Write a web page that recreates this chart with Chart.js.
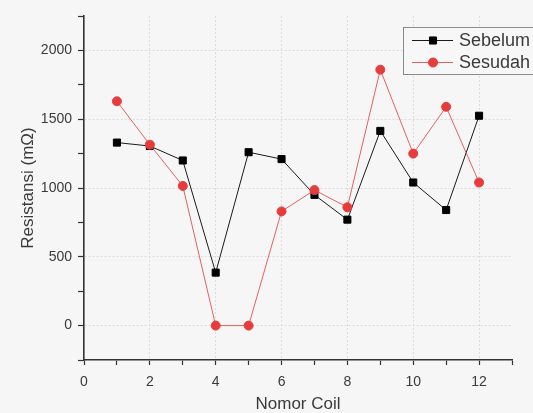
<!DOCTYPE html>
<html>
<head>
<meta charset="utf-8">
<script src="https://cdn.jsdelivr.net/npm/chart.js@4.4.1/dist/chart.umd.min.js"></script>
<style>
  html, body { margin: 0; padding: 0; background: #f6f6f6; }
  #wrap { width: 533px; height: 413px; }
</style>
</head>
<body>
<div id="wrap"><canvas id="c" width="533" height="413" style="width:533px;height:413px"></canvas></div>
<script>
const categories = [1, 2, 3, 4, 5, 6, 7, 8, 9, 10, 11, 12];
const sebelum = [1330, 1305, 1200, 385, 1260, 1210, 950, 770, 1415, 1040, 840, 1525];
const sesudah = [1630, 1315, 1015, 0, 0, 830, 985, 860, 1860, 1250, 1590, 1040];
const seriesNames = ["Sebelum", "Sesudah"];
const xTickLabels = [0, 2, 4, 6, 8, 10, 12];
const yTickLabels = [0, 500, 1000, 1500, 2000];
const xTitle = "Nomor Coil";
const yTitle = "Resistansi (mΩ)";

const FONT = "'Liberation Sans', Arial, sans-serif";
const TXT = "#3a3a3a";

const legendPlugin = {
  id: 'boxLegend',
  afterDraw(chart) {
    const ctx = chart.ctx;
    ctx.save();
    const bx = 403, by = 27, bw = 140, bh = 47;
    ctx.fillStyle = '#f7f7f7';
    ctx.fillRect(bx, by, bw, bh);
    ctx.strokeStyle = '#8a8a8a';
    ctx.lineWidth = 1;
    ctx.strokeRect(bx + 0.5, by + 0.5, bw, bh);
    chart.data.datasets.forEach((ds, i) => {
      const y = 40 + i * 22;
      ctx.strokeStyle = ds.borderColor;
      ctx.lineWidth = 1;
      ctx.beginPath();
      ctx.moveTo(412, y + 0.5);
      ctx.lineTo(453, y + 0.5);
      ctx.stroke();
      ctx.fillStyle = ds.pointBackgroundColor;
      ctx.strokeStyle = ds.pointBorderColor;
      Chart.helpers.drawPoint(ctx, {pointStyle: ds.pointStyle, radius: ds.pointRadius, borderWidth: 1, rotation: 0}, 433, y + 0.5);
      ctx.fillStyle = TXT;
      ctx.font = "18px " + FONT;
      ctx.textBaseline = 'middle';
      ctx.textAlign = 'left';
      ctx.fillText(ds.label, 459, y + 1);
    });
    ctx.restore();
  }
};

new Chart(document.getElementById('c'), {
  type: 'line',
  data: {
    datasets: [
      {
        label: seriesNames[0],
        data: categories.map((c, i) => ({x: c, y: sebelum[i]})),
        borderColor: '#1a1a1a',
        borderWidth: 1,
        pointStyle: 'rect',
        pointRadius: 5,
        pointBackgroundColor: '#000000',
        pointBorderColor: '#000000',
        pointBorderWidth: 1,
        tension: 0,
        order: 1
      },
      {
        label: seriesNames[1],
        data: categories.map((c, i) => ({x: c, y: sesudah[i]})),
        borderColor: 'rgba(226,70,70,0.85)',
        borderWidth: 1,
        pointStyle: 'circle',
        pointRadius: 4.5,
        pointBackgroundColor: '#e63c3c',
        pointBorderColor: '#e63c3c',
        pointBorderWidth: 1,
        tension: 0,
        order: 0
      }
    ]
  },
  options: {
    responsive: false,
    animation: false,
    devicePixelRatio: 1,
    layout: { padding: { left: 0, top: 16, right: 21, bottom: 0 } },
    plugins: { legend: { display: false }, tooltip: { enabled: false } },
    scales: {
      x: {
        type: 'linear',
        min: 0, max: 13,
        afterFit(s) { s.height = 53; },
        ticks: {
          stepSize: 1,
          autoSkip: false,
          maxRotation: 0,
          padding: 9,
          color: TXT,
          font: { family: FONT, size: 14 },
          callback: (v) => xTickLabels.includes(v) ? String(v) : ''
        },
        grid: {
          color: (c) => (c.tick && xTickLabels.includes(c.tick.value) && c.tick.value !== 0) ? '#dcdcdc' : 'rgba(0,0,0,0)',
          lineWidth: 1,
          tickColor: '#333',
          tickLength: 5,
          tickWidth: 1.2
        },
        border: { display: true, color: '#333', width: 1.6, dash: [2, 2] },
        title: {
          display: true, text: xTitle, color: TXT,
          font: { family: FONT, size: 17 },
          padding: { top: 0, bottom: -2 }
        }
      },
      y: {
        type: 'linear',
        min: -250, max: 2250,
        afterFit(s) { s.width = 84; },
        ticks: {
          stepSize: 250,
          autoSkip: false,
          padding: 6,
          color: TXT,
          font: { family: FONT, size: 14 },
          callback: (v) => yTickLabels.includes(v) ? String(v) : ''
        },
        grid: {
          color: (c) => (c.tick && yTickLabels.includes(c.tick.value)) ? '#dcdcdc' : 'rgba(0,0,0,0)',
          lineWidth: 1,
          tickColor: '#333',
          tickLength: 6,
          tickWidth: 1.2
        },
        border: { display: true, color: '#333', width: 1.6, dash: [2, 2] },
        title: {
          display: true, text: yTitle, color: TXT,
          font: { family: FONT, size: 17 },
          padding: { top: 18, bottom: 0 }
        }
      }
    }
  },
  plugins: [legendPlugin]
});
</script>
</body>
</html>
